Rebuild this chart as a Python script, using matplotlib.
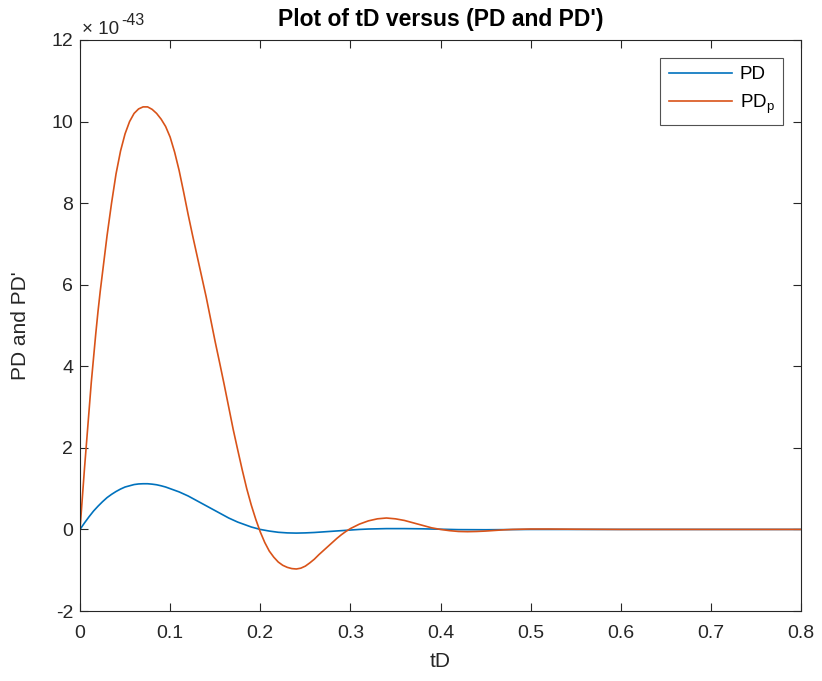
import matplotlib
matplotlib.use("Agg")
import matplotlib.pyplot as plt
from matplotlib.ticker import FixedLocator, FixedFormatter

plt.rcParams['font.family'] = ['Liberation Sans', 'DejaVu Sans']
plt.rcParams['axes.unicode_minus'] = False

#----------------------------------------------------------------
# values (units of 1e-43)
scale = 1e-43

t_pd = [0, 0.005, 0.01, 0.015, 0.02, 0.025, 0.03, 0.035, 0.04, 0.045,
        0.05, 0.055, 0.06, 0.065, 0.07, 0.075, 0.08, 0.085, 0.09, 0.095,
        0.1, 0.105, 0.11, 0.115, 0.12, 0.125, 0.13, 0.135, 0.14, 0.145,
        0.15, 0.155, 0.16, 0.165, 0.17, 0.175, 0.18, 0.185, 0.19, 0.195,
        0.2, 0.21, 0.22, 0.23, 0.24, 0.25, 0.26, 0.27, 0.28, 0.29,
        0.3, 0.31, 0.32, 0.34, 0.36, 0.38, 0.4, 0.42, 0.45, 0.5,
        0.6, 0.7, 0.8]
pd = [0, 0.16, 0.31, 0.45, 0.57, 0.68, 0.78, 0.86, 0.93, 0.99,
      1.04, 1.07, 1.10, 1.115, 1.12, 1.12, 1.11, 1.095, 1.07, 1.04,
      1.0, 0.96, 0.92, 0.87, 0.82, 0.76, 0.70, 0.64, 0.58, 0.52,
      0.46, 0.40, 0.34, 0.28, 0.23, 0.18, 0.14, 0.10, 0.06, 0.03,
      0.0, -0.04, -0.07, -0.085, -0.09, -0.085, -0.075, -0.06, -0.045, -0.03,
      -0.015, 0.0, 0.01, 0.02, 0.02, 0.015, 0.005, -0.005, -0.008, 0.0,
      0.0, 0.0, 0.0]

t_pdp = [0, 0.0025, 0.005, 0.0075, 0.01, 0.0125, 0.015, 0.0175, 0.02, 0.0225,
         0.025, 0.03, 0.035, 0.04, 0.045, 0.05, 0.055, 0.06, 0.065, 0.07,
         0.075, 0.08, 0.085, 0.09, 0.095, 0.1, 0.105, 0.11, 0.115, 0.12,
         0.125, 0.13, 0.135, 0.14, 0.145, 0.15, 0.155, 0.16, 0.165, 0.17,
         0.175, 0.18, 0.185, 0.19, 0.195, 0.2, 0.205, 0.21, 0.215, 0.22,
         0.225, 0.23, 0.235, 0.24, 0.245, 0.25, 0.255, 0.26, 0.265, 0.27,
         0.275, 0.28, 0.285, 0.29, 0.295, 0.3, 0.31, 0.32, 0.33, 0.34,
         0.35, 0.36, 0.37, 0.38, 0.39, 0.4, 0.41, 0.42, 0.43, 0.44,
         0.45, 0.46, 0.47, 0.48, 0.5, 0.52, 0.55, 0.6, 0.7, 0.8]
pdp = [0, 0.75, 1.5, 2.2, 2.9, 3.6, 4.2, 4.8, 5.35, 5.85,
       6.3, 7.2, 8.0, 8.72, 9.28, 9.7, 10.0, 10.2, 10.31, 10.36,
       10.36, 10.3, 10.2, 10.06, 9.88, 9.62, 9.25, 8.8, 8.27, 7.72,
       7.2, 6.7, 6.2, 5.7, 5.15, 4.6, 4.08, 3.55, 3.0, 2.45,
       1.95, 1.46, 1.0, 0.6, 0.25, -0.06, -0.32, -0.53, -0.68, -0.8,
       -0.88, -0.93, -0.96, -0.97, -0.95, -0.9, -0.82, -0.73, -0.62, -0.52,
       -0.42, -0.32, -0.22, -0.13, -0.05, 0.02, 0.13, 0.21, 0.26, 0.28,
       0.26, 0.22, 0.16, 0.1, 0.04, 0.0, -0.03, -0.05, -0.055, -0.05,
       -0.04, -0.025, -0.01, 0.0, 0.01, 0.01, 0.005, 0.0, 0.0, 0.0]

xticks = [0, 0.1, 0.2, 0.3, 0.4, 0.5, 0.6, 0.7, 0.8]
xticklabels = ['0', '0.1', '0.2', '0.3', '0.4', '0.5', '0.6', '0.7', '0.8']
yticks = [-2, 0, 2, 4, 6, 8, 10, 12]
yticklabels = ['-2', '0', '2', '4', '6', '8', '10', '12']

#----------------------------------------------------------------
fig = plt.figure(figsize=(8.22, 6.81), dpi=100)
ax = fig.add_axes([80/822, 70/681, 721/822, 571/681])

ax.plot(t_pd, [v*scale for v in pd], color='#0072BD', lw=1.2, label='PD')
ax.plot(t_pdp, [v*scale for v in pdp], color='#D95319', lw=1.2, label='PD$_\\mathregular{p}$')

ax.set_xlim(0, 0.8)
ax.set_ylim(-2*scale, 12*scale)
ax.xaxis.set_major_locator(FixedLocator(xticks))
ax.xaxis.set_major_formatter(FixedFormatter(xticklabels))
ax.yaxis.set_major_locator(FixedLocator([v*scale for v in yticks]))
ax.yaxis.set_major_formatter(FixedFormatter(yticklabels))

# exponent label, MATLAB style
ax.text(0.003, 1.0105, "\u00d7 10", transform=ax.transAxes, fontsize=13.5,
        color='#262626', ha='left', va='baseline')
ax.text(0.057, 1.027, "-43", transform=ax.transAxes, fontsize=11.5,
        color='#262626', ha='left', va='baseline')

ax.tick_params(direction='in', top=True, right=True, length=6, width=0.8,
               labelsize=14, colors='#262626')
ax.tick_params(axis='x', pad=10)
ax.tick_params(axis='y', pad=5)
for s in ax.spines.values():
	s.set_linewidth(0.8)
	s.set_color('#262626')

ax.set_title("Plot of tD versus (PD and PD')", fontsize=16.5, fontweight='bold', pad=10)
ax.set_xlabel("tD", fontsize=15, color='#262626', labelpad=7)
ax.set_ylabel("PD and PD'", fontsize=15, color='#262626', labelpad=15)

leg = ax.legend(loc='upper right', fontsize=13.5, handlelength=3.4, frameon=True,
                fancybox=False, borderaxespad=0.95, labelspacing=0.5,
                borderpad=0.45, handletextpad=0.4)
leg.get_frame().set_edgecolor('#262626')
leg.get_frame().set_linewidth(0.8)

fig.savefig("out.png", dpi=100)
